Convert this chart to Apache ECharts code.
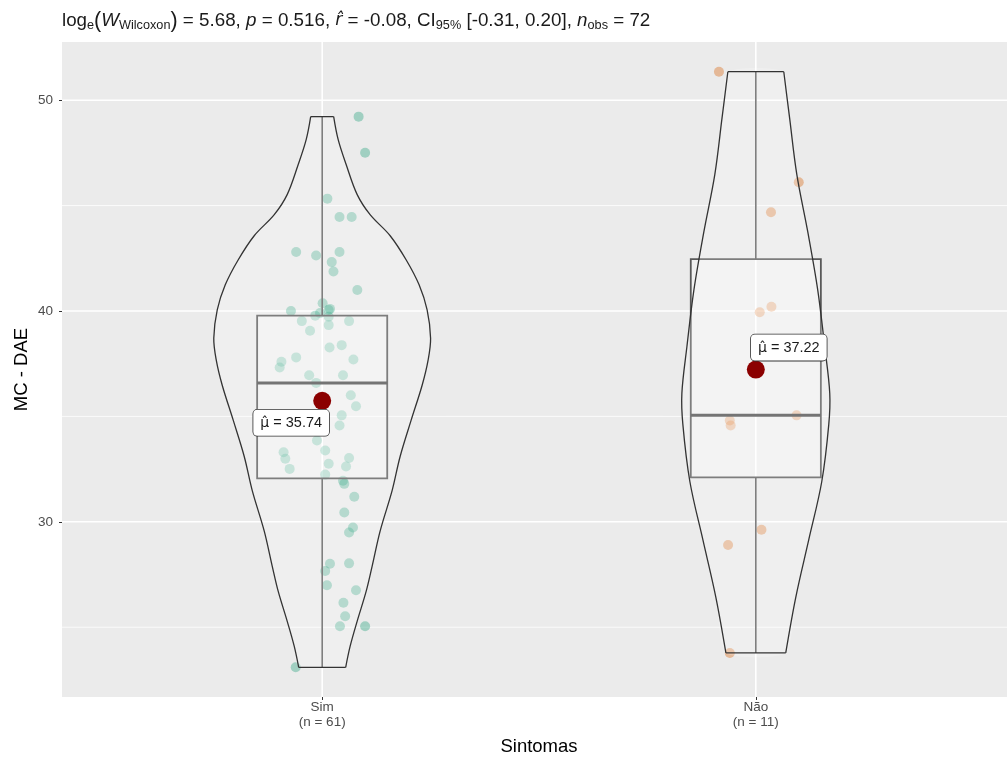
<!DOCTYPE html>
<html>
<head>
<meta charset="utf-8">
<script src="https://cdn.jsdelivr.net/npm/echarts@6/dist/echarts.min.js"></script>
<style>
  html, body { margin: 0; padding: 0; background: #ffffff; }
  #chart { width: 1007px; height: 758px; }
</style>
</head>
<body>
<div id="chart"></div>
<script>
// ---- data ----
const categories = ['Sim', 'Não'];
const groupSizes = [61, 11];

// MC - DAE values per group, with the horizontal jitter of each point
const simValues = [
  49.22, 47.51, 45.33, 44.46, 44.46, 42.80, 42.63, 42.80, 42.32, 41.87,
  41.00, 40.37, 40.00, 39.78, 40.05, 39.73, 39.52, 39.33, 39.52, 39.06,
  38.27, 38.38, 37.80, 37.59, 37.32, 37.70, 36.95, 36.95, 36.59, 36.00,
  35.48, 35.05, 34.57, 33.86, 33.38, 33.30, 32.99, 32.51, 32.75, 33.03,
  32.62, 32.24, 31.95, 31.80, 31.19, 30.44, 29.73, 29.49, 28.01, 27.67,
  28.03, 26.99, 26.75, 26.16, 25.52, 25.05, 25.05, 23.10, 39.90, 40.10,
  34.50
];
const simJitter = [
  0.084, 0.099, 0.012, 0.040, 0.068, -0.060, -0.014, 0.040, 0.022, 0.026,
  0.081, 0.001, -0.072, -0.016, 0.015, 0.015, -0.047, 0.015, 0.062, -0.028,
  0.017, 0.045, -0.060, -0.094, -0.098, 0.072, -0.030, 0.048, -0.014, 0.066,
  0.078, 0.045, 0.040, -0.012, 0.007, -0.089, -0.085, -0.075, 0.015, 0.062,
  0.055, 0.007, 0.048, 0.051, 0.074, 0.051, 0.071, 0.062, 0.018, 0.007,
  0.062, 0.011, 0.078, 0.049, 0.053, 0.041, 0.099, -0.061, -0.005, 0.018,
  -0.023
];
const naoValues = [51.35, 46.11, 44.68, 39.94, 40.20, 34.81, 34.57, 35.05, 29.62, 28.90, 23.78];
const naoJitter = [-0.085, 0.099, 0.035, 0.009, 0.036, -0.060, -0.058, 0.094, 0.013, -0.064, -0.060];

// group means (labelled) and box statistics [min, Q1, median, Q3, max]
const groupMeans = [35.74, 37.22];
const boxSim = [23.10, 32.06, 36.59, 39.78, 49.22];
const boxNao = [23.78, 32.11, 35.05, 42.46, 51.35];

// violin outlines: relative density at a set of MC - DAE levels
const violinLevelsSim = [23.10, 24.10, 25.29, 26.71, 27.90, 29.57, 31.48, 33.10, 34.81, 36.48, 37.67,
  38.71, 40.05, 41.24, 42.43, 43.57, 44.57, 45.52, 46.95, 48.14, 49.22];
const violinDensitySim = [0.217, 0.258, 0.323, 0.406, 0.461, 0.535, 0.645, 0.719, 0.820, 0.922, 0.977,
  1.000, 0.968, 0.894, 0.774, 0.627, 0.442, 0.323, 0.221, 0.147, 0.106];
const violinLevelsNao = [23.78, 26.43, 29.14, 31.90, 34.62, 36.10, 38.29, 41.00, 43.76, 46.48, 49.10, 51.35];
const violinDensityNao = [0.276, 0.369, 0.488, 0.608, 0.673, 0.682, 0.636, 0.571, 0.479, 0.378, 0.313, 0.258];

// axis ticks
const yMajorTicks = [30, 40, 50];
const yMinorTicks = [25, 35, 45];
const xTicks = [1, 2];

// ---- drawing ----
const FONT = '"Liberation Sans", Arial, sans-serif';
const MARK_FONT = '"DejaVu Sans", "Liberation Sans", sans-serif';
const VIOLIN_HALF = 0.25;   // half of the violin width (axis units)
const BOX_HALF = 0.15;      // half of the box width (axis units)
const violins = [
  { levels: violinLevelsSim, density: violinDensitySim },
  { levels: violinLevelsNao, density: violinDensityNao }
];
const boxes = [boxSim, boxNao];

const chart = echarts.init(document.getElementById('chart'), null, { renderer: 'canvas' });

const titleText =
  '{a|log}{s|e}{p|(}{i|W}{s|Wilcoxon}{p|)}{a| = 5.68, }{i|p}{a| = 0.516, }{h|r\u0302}{a| = -0.08, CI}{s|95%}' +
  '{a| [-0.31, 0.20], }{i|n}{s|obs}{a| = 72}';

const txt = (extra) => Object.assign({
  fontFamily: FONT, fontSize: 18.8, fontWeight: 'normal', color: '#1a1a1a', lineHeight: 24, verticalAlign: 'middle'
}, extra);

const option = {
  animation: false,
  backgroundColor: '#ffffff',
  title: {
    text: titleText,
    left: 57,
    top: 4,
    textStyle: {
      fontWeight: 'normal',
      rich: {
        a: txt({}),
        i: txt({ fontStyle: 'italic' }),
        h: txt({ fontStyle: 'italic', fontFamily: MARK_FONT, fontSize: 17.2 }),
        p: txt({ fontSize: 21.5 }),
        s: txt({ fontSize: 12.7, lineHeight: 13, verticalAlign: 'bottom', padding: [0, 0, 1, 0] })
      }
    }
  },
  grid: {
    left: 62, width: 954, top: 42, bottom: 61,
    outerBoundsMode: 'none',
    containLabel: false,
    show: true, backgroundColor: '#ebebeb', borderWidth: 0
  },
  xAxis: {
    type: 'value',
    min: 0.4, max: 2.6,
    axisLine: { show: false },
    splitLine: { show: false },
    axisTick: { show: true, customValues: xTicks, length: 3, lineStyle: { color: '#333333', width: 1 } },
    axisLabel: {
      customValues: xTicks,
      formatter: v => categories[v - 1] + '\n(n = ' + groupSizes[v - 1] + ')',
      color: '#4d4d4d', fontFamily: FONT, fontSize: 13.5, lineHeight: 15, margin: 3
    },
    name: 'Sintomas',
    nameLocation: 'middle',
    nameGap: 40,
    nameTextStyle: { fontFamily: FONT, fontSize: 18.5, color: '#000000' }
  },
  yAxis: {
    type: 'value',
    min: 21.69, max: 52.76,
    axisLine: { show: false },
    splitLine: { show: false },
    axisTick: { show: true, customValues: yMajorTicks, length: 3, lineStyle: { color: '#333333', width: 1 } },
    axisLabel: {
      customValues: yMajorTicks,
      color: '#4d4d4d', fontFamily: FONT, fontSize: 13.5, margin: 9
    },
    name: 'MC - DAE',
    nameLocation: 'middle',
    nameRotate: 90,
    nameGap: 31,
    nameMoveOverlap: false,
    nameTextStyle: { fontFamily: FONT, fontSize: 18.5, color: '#000000' }
  },
  series: [
    // panel grid lines
    {
      type: 'custom',
      silent: true,
      z: 1,
      data: yMajorTicks.map(v => [v, 1]).concat(yMinorTicks.map(v => [v, 0])),
      encode: { x: -1, y: 0 },
      renderItem: (params, api) => {
        const cs = params.coordSys;
        const y = api.coord([1, api.value(0)])[1];
        return {
          type: 'line',
          shape: { x1: cs.x, y1: y, x2: cs.x + cs.width, y2: y },
          style: { stroke: '#ffffff', lineWidth: api.value(1) ? 1.6 : 0.8 }
        };
      }
    },
    {
      type: 'custom',
      silent: true,
      z: 1,
      data: xTicks.map(v => [v]),
      encode: { x: 0, y: -1 },
      renderItem: (params, api) => {
        const cs = params.coordSys;
        const x = api.coord([api.value(0), 30])[0];
        return {
          type: 'line',
          shape: { x1: x, y1: cs.y, x2: x, y2: cs.y + cs.height },
          style: { stroke: '#ffffff', lineWidth: 1.6 }
        };
      }
    },
    // jittered observations
    {
      type: 'scatter',
      z: 2,
      silent: true,
      symbolSize: 10,
      itemStyle: { color: '#1b9e77', opacity: 0.36 },
      data: simValues.map((v, i) => [1 + simJitter[i], v])
    },
    {
      type: 'scatter',
      z: 2,
      silent: true,
      symbolSize: 10,
      itemStyle: { color: '#d95f02', opacity: 0.36 },
      data: naoValues.map((v, i) => [2 + naoJitter[i], v])
    },
    // box plots
    {
      type: 'custom',
      z: 3,
      silent: true,
      data: boxes.map((b, i) => [i + 1].concat(b)),
      encode: { x: 0, y: [1, 2, 3, 4, 5] },
      renderItem: (params, api) => {
        const c = api.value(0);
        const pMin = api.coord([c, api.value(1)]);
        const pQ1 = api.coord([c, api.value(2)]);
        const pMed = api.coord([c, api.value(3)]);
        const pQ3 = api.coord([c, api.value(4)]);
        const pMax = api.coord([c, api.value(5)]);
        const xl = api.coord([c - BOX_HALF, 30])[0];
        const xr = api.coord([c + BOX_HALF, 30])[0];
        const edge = '#595959';
        return {
          type: 'group',
          children: [
            { type: 'line', shape: { x1: pMin[0], y1: pMin[1], x2: pQ1[0], y2: pQ1[1] }, style: { stroke: edge, lineWidth: 1.6 } },
            { type: 'line', shape: { x1: pQ3[0], y1: pQ3[1], x2: pMax[0], y2: pMax[1] }, style: { stroke: edge, lineWidth: 1.6 } },
            { type: 'rect', shape: { x: xl, y: pQ3[1], width: xr - xl, height: pQ1[1] - pQ3[1] },
              style: { fill: 'rgba(255,255,255,0.25)', stroke: edge, lineWidth: 1.8 } },
            { type: 'line', shape: { x1: xl, y1: pMed[1], x2: xr, y2: pMed[1] }, style: { stroke: '#4d4d4d', lineWidth: 3 } }
          ]
        };
      }
    },
    // violins
    {
      type: 'custom',
      z: 4,
      silent: true,
      data: violins.map((v, i) => [i + 1, v.levels[0], v.levels[v.levels.length - 1]]),
      encode: { x: 0, y: [1, 2] },
      renderItem: (params, api) => {
        const c = api.value(0);
        const vio = violins[params.dataIndex];
        const right = vio.levels.map((lv, k) => api.coord([c + VIOLIN_HALF * vio.density[k], lv]));
        const left = vio.levels.map((lv, k) => api.coord([c - VIOLIN_HALF * vio.density[k], lv])).reverse();
        const outline = { stroke: '#333333', lineWidth: 1.3 };
        return {
          type: 'group',
          children: [
            { type: 'polygon', shape: { points: right.concat(left), smooth: 0.2 },
              style: { fill: 'rgba(255,255,255,0.22)', stroke: null } },
            { type: 'polyline', shape: { points: right, smooth: 0.35 }, style: Object.assign({ fill: null }, outline) },
            { type: 'polyline', shape: { points: left, smooth: 0.35 }, style: Object.assign({ fill: null }, outline) },
            { type: 'line', shape: { x1: left[0][0], y1: left[0][1], x2: right[right.length - 1][0], y2: right[right.length - 1][1] },
              style: outline },
            { type: 'line', shape: { x1: right[0][0], y1: right[0][1], x2: left[left.length - 1][0], y2: left[left.length - 1][1] },
              style: outline }
          ]
        };
      }
    },
    // group means
    {
      type: 'scatter',
      z: 6,
      silent: true,
      symbolSize: 18,
      itemStyle: { color: '#8b0000', opacity: 1 },
      data: groupMeans.map((m, i) => ({
        value: [i + 1, m],
        label: { offset: i === 0 ? [-31, 22] : [33, -22] }
      })),
      label: {
        show: true,
        position: 'inside',
        formatter: p => '{m|\u03bc\u0302}{t| = ' + p.value[1].toFixed(2) + '}',
        backgroundColor: '#ffffff',
        borderColor: '#333333',
        borderWidth: 0.8,
        borderRadius: 4,
        padding: [5, 7, 4, 7],
        rich: {
          m: { fontFamily: MARK_FONT, fontSize: 14, color: '#1a1a1a', lineHeight: 17 },
          t: { fontFamily: FONT, fontSize: 14.5, color: '#1a1a1a', lineHeight: 17 }
        }
      }
    }
  ]
};

chart.setOption(option);
</script>
</body>
</html>
